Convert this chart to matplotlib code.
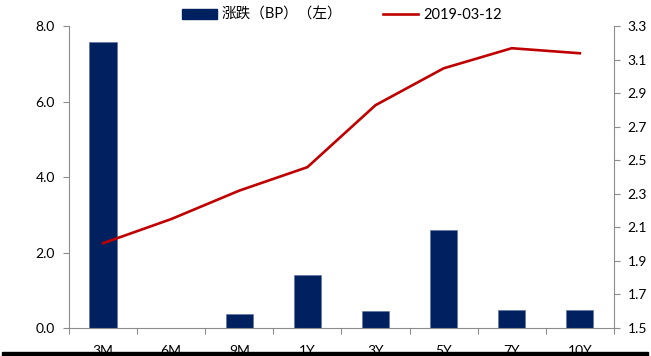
import matplotlib.pyplot as plt
import matplotlib.patches as mpatches
from matplotlib.lines import Line2D
import numpy as np

plt.rcParams['font.family'] = ['Lato', 'Noto Sans CJK SC', 'DejaVu Sans']

# Term structure: daily change (bp, left axis) and yield level (%, right axis)
tenors = ["3M", "6M", "9M", "1Y", "3Y", "5Y", "7Y", "10Y"]
change_bp = [7.58, 0.0, 0.37, 1.41, 0.44, 2.61, 0.48, 0.48]
yield_0312 = [2.006, 2.15, 2.32, 2.46, 2.83, 3.05, 3.17, 3.14]

bar_label = "涨跌（BP）（左）"
line_label = "2019-03-12"

NAVY = "#002060"
RED = "#C00000"
GREY = "#8C8C8C"

fig = plt.figure(figsize=(6.51, 3.56), dpi=100)
ax = fig.add_axes([0.106, 0.0787, 0.837, 0.847])
ax2 = ax.twinx()

x = np.arange(len(tenors))
ax.bar(x, change_bp, width=0.4, color=NAVY, edgecolor="#5A6F9E", linewidth=0.4, zorder=2)
ax2.plot(x, yield_0312, color=RED, linewidth=1.9, solid_joinstyle="miter", zorder=3)

ax.set_xlim(-0.5, len(tenors) - 0.5)
ax.set_ylim(0, 8)
ax.set_yticks([0, 2, 4, 6, 8])
ax.set_yticklabels([f"{v:.1f}" for v in [0, 2, 4, 6, 8]])
ax2.set_ylim(1.5, 3.3)
ax2.set_yticks(np.arange(1.5, 3.31, 0.2))
ax2.set_yticklabels([f"{v:.1f}" for v in np.arange(1.5, 3.31, 0.2)])

# labels sit at category centres, tick marks on category boundaries
ax.set_xticks(x)
ax.set_xticklabels(tenors)
ax.set_xticks(np.arange(-0.5, len(tenors)), minor=True)
ax.tick_params(axis="x", which="major", length=0, pad=12, labelsize=10)
ax.tick_params(axis="x", which="minor", length=4, color=GREY, width=0.8)
ax.tick_params(axis="y", length=4, color=GREY, width=0.8, labelsize=10, pad=6)
ax2.tick_params(axis="y", length=4, color=GREY, width=0.8, labelsize=10, pad=6)

for a in (ax, ax2):
    a.spines["top"].set_visible(False)
    for s in ("left", "right", "bottom"):
        a.spines[s].set_color(GREY)
        a.spines[s].set_linewidth(0.8)
ax.spines["right"].set_visible(False)
ax2.spines["left"].set_visible(False)
ax2.spines["bottom"].set_visible(False)

handles = [
    mpatches.Patch(color=NAVY, label=bar_label),
    Line2D([0], [0], color=RED, linewidth=1.9, label=line_label),
]
fig.legend(handles=handles, loc="center", bbox_to_anchor=(0.525, 0.958), ncol=2,
           frameon=False, fontsize=10.5, handlelength=2.4, handleheight=0.7,
           handletextpad=0.35, columnspacing=2.8)

# heavy rule along the bottom edge
fig.add_artist(mpatches.Rectangle((0.003, 0.0), 0.992, 0.011, transform=fig.transFigure,
                                  color="black", zorder=10))

fig.savefig("out.png", dpi=100)
